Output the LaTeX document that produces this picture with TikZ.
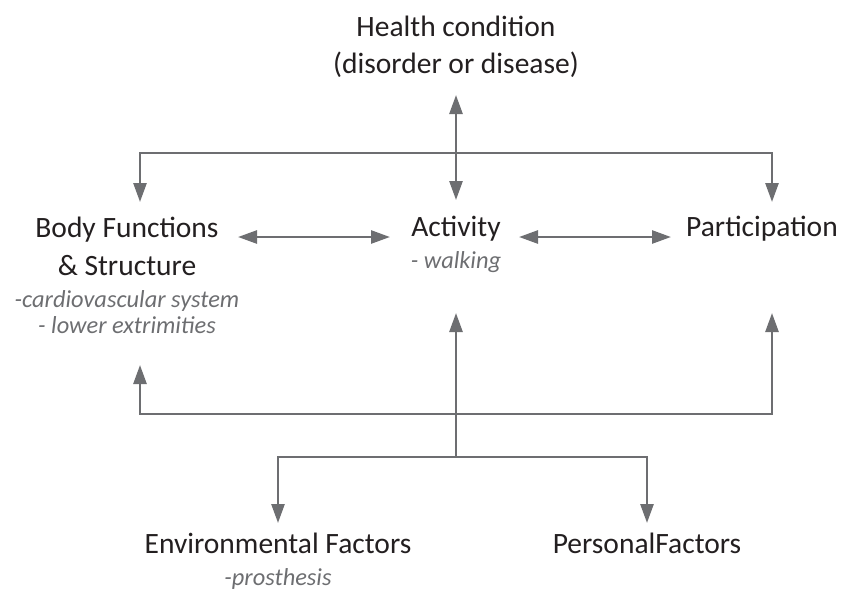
\documentclass[tikz,border=0pt]{standalone}
\usepackage{fontspec}
\setmainfont{Carlito}
\usetikzlibrary{arrows.meta}
\definecolor{txt}{HTML}{231F20}
\definecolor{sub}{HTML}{6D6E71}
\definecolor{ln}{HTML}{6D6E71}
\tikzset{
  mainlbl/.style={anchor=base, inner sep=0pt, text=txt, font=\fontsize{29.5}{37}\selectfont},
  sublbl/.style={anchor=base, inner sep=0pt, text=sub, font=\fontsize{24.4}{26}\selectfont\itshape},
  conn/.style={draw=ln, line width=2.6pt},
  arr/.style={conn, -{Triangle[length=19pt,width=13pt]}},
  darr/.style={conn, {Triangle[length=19pt,width=13pt]}-{Triangle[length=19pt,width=13pt]}}
}
\begin{document}
\begin{tikzpicture}[x=1pt,y=-1pt]
\useasboundingbox (0,0) rectangle (841,590);
% labels
\node[mainlbl] (hc1) at (456,36) {Health condition};
\node[mainlbl] (hc2) at (456,73) {(disorder or disease)};
\node[mainlbl] (bf1) at (127,237) {Body Functions};
\node[mainlbl] (bf2) at (127,275) {\& Structure};
\node[sublbl] (bf3) at (127,307) {-cardiovascular system};
\node[sublbl] (bf4) at (127,333) {- lower extrimities};
\node[mainlbl] (ac1) at (456,236) {Activity};
\node[sublbl] (ac2) at (456,268) {- walking};
\node[mainlbl] (pa1) at (762,236) {Participation};
\node[mainlbl] (ef1) at (278,553) {Environmental Factors};
\node[sublbl] (ef2) at (278,585) {-prosthesis};
\node[mainlbl] (pf1) at (647,553) {PersonalFactors};
% junction and tip coordinates
\coordinate (hcBot) at (456,95);
\coordinate (tm) at (456,153);
\coordinate (bfTop) at (140,202);
\coordinate (acTop) at (456,200);
\coordinate (paTop) at (772,202);
\coordinate (bfR) at (238,237);
\coordinate (acL) at (390,237);
\coordinate (acR) at (519,237);
\coordinate (paL) at (671,237);
\coordinate (bfBot) at (140,365);
\coordinate (acBot) at (456,313);
\coordinate (paBot) at (772,313);
\coordinate (bm) at (456,414);
\coordinate (fm) at (456,457);
\coordinate (efTop) at (278,523);
\coordinate (pfTop) at (647,523);
% connectors
\draw[darr] (hcBot) -- (acTop);
\draw[arr] (tm) -| (bfTop);
\draw[arr] (tm) -| (paTop);
\draw[darr] (bfR) -- (acL);
\draw[darr] (acR) -- (paL);
\draw[arr] (bm) -| (bfBot);
\draw[arr] (bm) -| (paBot);
\draw[arr] (fm) -- (acBot);
\draw[arr] (fm) -| (efTop);
\draw[arr] (fm) -| (pfTop);
\end{tikzpicture}
\end{document}
